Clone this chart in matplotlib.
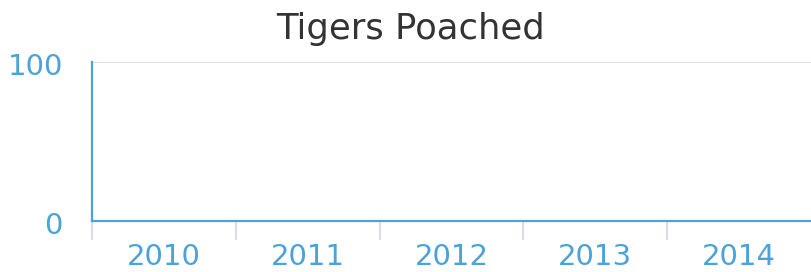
import matplotlib
matplotlib.use("Agg")
import matplotlib.pyplot as plt
from matplotlib.transforms import ScaledTranslation

categories = ["2010", "2011", "2012", "2013", "2014"]
tigers_poached = [0, 0, 0, 0, 0]
y_ticks = [0, 100]

W, H = 811, 272
fig = plt.figure(figsize=(W / 100, H / 100), dpi=100)
ax = fig.add_axes([92 / W, (H - 221) / H, 1 - 92 / W, (221 - 62) / H])

x = list(range(len(categories)))
ax.bar(x, tigers_poached, width=0.8, color="#7cb5ec")

ax.set_xlim(-0.5, len(categories) - 0.5)
ax.set_ylim(0, 100)
ax.set_yticks(y_ticks)
ax.set_yticklabels([str(v) for v in y_ticks])
ax.set_xticks(x)
ax.set_xticklabels(categories)
ax.set_xticks([i - 0.5 for i in range(len(categories))], minor=True)

label_color = "#4ba3d9"
ax.tick_params(axis="x", which="major", length=0, pad=16, labelsize=21, labelcolor=label_color)
ax.tick_params(axis="x", which="minor", length=14, width=1.2, color="#ccd6eb", direction="out")
ax.tick_params(axis="y", length=0, pad=21, labelsize=21, labelcolor=label_color)

# nudge y labels slightly downward
offset = ScaledTranslation(0, -2 / 100, fig.dpi_scale_trans)
for lbl in ax.get_yticklabels():
    lbl.set_transform(lbl.get_transform() + offset)

for s in ["top", "right"]:
    ax.spines[s].set_visible(False)
for s in ["left", "bottom"]:
    ax.spines[s].set_color("#4ca3d8")
    ax.spines[s].set_linewidth(1.6)
ax.spines["bottom"].set_zorder(5)

ax.yaxis.grid(True, color="#dcdcdc", linewidth=1.2)
ax.set_axisbelow(True)

fig.text(410 / W, 1 - 29 / H, "Tigers Poached", ha="center", va="center",
         fontsize=25.5, color="#333333")

fig.savefig("out.png", dpi=100)
